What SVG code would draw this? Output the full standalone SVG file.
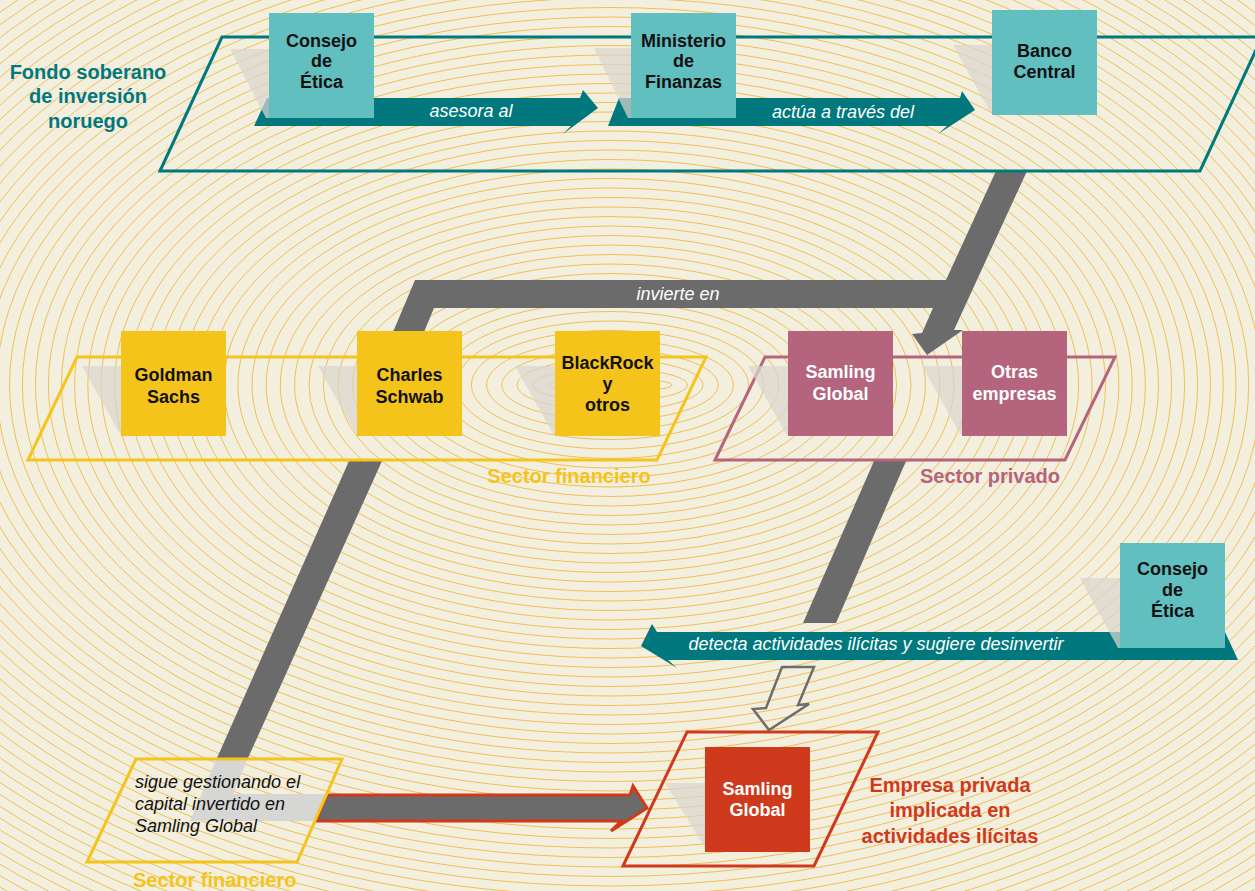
<svg xmlns="http://www.w3.org/2000/svg" width="1255" height="891" viewBox="0 0 1255 891">
<defs>
<style>
.rings ellipse{fill:none;stroke:#f0b53a;stroke-width:0.85}
.frame{fill:none;stroke-width:3;stroke-linejoin:miter}
.shadow{fill:#d9d6ce;opacity:.72}
.lbl{font-family:"Liberation Sans",Arial,sans-serif;font-weight:bold;text-anchor:middle}
.bx{font-size:18px;fill:#111}
.wh{fill:#fff}
.it{font-family:"Liberation Sans",Arial,sans-serif;font-style:italic;font-size:18px}
.teal{fill:#00787e}
.gray{fill:#6b6b6b}
.tbox{fill:#62bfbf}
.ybox{fill:#f5c41b}
.pbox{fill:#b4647c}
</style>
</defs>
<rect width="1255" height="891" fill="#f3efdf"/>
<g id="background" class="rings" transform="translate(610 385)">
<ellipse rx="62" ry="7"/><ellipse rx="77.5" ry="16.5"/><ellipse rx="92.9" ry="26"/><ellipse rx="108.2" ry="35.5"/><ellipse rx="123.4" ry="45"/>
<ellipse rx="138.6" ry="54.5"/><ellipse rx="153.7" ry="64"/><ellipse rx="168.8" ry="73.5"/><ellipse rx="183.8" ry="83"/><ellipse rx="198.7" ry="92.5"/>
<ellipse rx="213.5" ry="102"/><ellipse rx="228.3" ry="111.5"/><ellipse rx="243" ry="121"/><ellipse rx="257.6" ry="130.5"/><ellipse rx="272.1" ry="140"/>
<ellipse rx="286.6" ry="149.5"/><ellipse rx="301" ry="159"/><ellipse rx="315.4" ry="168.5"/><ellipse rx="329.7" ry="178"/><ellipse rx="343.9" ry="187.5"/>
<ellipse rx="358" ry="197"/><ellipse rx="372.1" ry="206.5"/><ellipse rx="386.1" ry="216"/><ellipse rx="400" ry="225.5"/><ellipse rx="413.8" ry="235"/>
<ellipse rx="427.6" ry="244.5"/><ellipse rx="441.3" ry="254"/><ellipse rx="455" ry="263.5"/><ellipse rx="468.6" ry="273"/><ellipse rx="482.1" ry="282.5"/>
<ellipse rx="495.5" ry="292"/><ellipse rx="508.9" ry="301.5"/><ellipse rx="522.2" ry="311"/><ellipse rx="535.4" ry="320.5"/><ellipse rx="548.5" ry="330"/>
<ellipse rx="561.6" ry="339.5"/><ellipse rx="574.6" ry="349"/><ellipse rx="587.6" ry="358.5"/><ellipse rx="600.5" ry="368"/><ellipse rx="613.3" ry="377.5"/>
<ellipse rx="626" ry="387"/><ellipse rx="638.7" ry="396.5"/><ellipse rx="651.3" ry="406"/><ellipse rx="663.8" ry="415.5"/><ellipse rx="676.2" ry="425"/>
<ellipse rx="688.6" ry="434.5"/><ellipse rx="700.9" ry="444"/><ellipse rx="713.2" ry="453.5"/><ellipse rx="725.4" ry="463"/><ellipse rx="737.5" ry="472.5"/>
<ellipse rx="749.5" ry="482"/><ellipse rx="761.5" ry="491.5"/><ellipse rx="773.4" ry="501"/><ellipse rx="785.2" ry="510.5"/><ellipse rx="796.9" ry="520"/>
<ellipse rx="808.6" ry="529.5"/><ellipse rx="820.2" ry="539"/><ellipse rx="831.8" ry="548.5"/><ellipse rx="843.3" ry="558"/><ellipse rx="854.7" ry="567.5"/>
<ellipse rx="866" ry="577"/><ellipse rx="877.3" ry="586.5"/><ellipse rx="888.5" ry="596"/><ellipse rx="899.6" ry="605.5"/><ellipse rx="910.6" ry="615"/>
<ellipse rx="921.6" ry="624.5"/><ellipse rx="932.5" ry="634"/><ellipse rx="943.4" ry="643.5"/><ellipse rx="954.2" ry="653"/><ellipse rx="964.9" ry="662.5"/>
<ellipse rx="975.5" ry="672"/><ellipse rx="986.1" ry="681.5"/><ellipse rx="996.6" ry="691"/><ellipse rx="1007" ry="700.5"/><ellipse rx="1017.4" ry="710"/>
<ellipse rx="1027.6" ry="719.5"/>
</g>

<g id="connectors">
<polygon class="gray" points="996,171 1027,171 954,330 963,330 927,355 912,334 922,333 933,308 434,308 424,332 393,332 415,280 946,280"/>
<polygon class="gray" points="349,461 382,461 248,758 217,758"/>
<polygon fill="#d6d6d4" points="217,758 248,758 233,794 327,794 315,821 190,821"/>
<polygon fill="#6b6b6b" stroke="#d03a1c" stroke-width="3" points="327,795 630,795 633,786 647,808 611,831 621,821 316,821"/>
<polygon class="gray" points="874,461 906,461 836,623 803,623"/>
<polygon class="teal" points="254,126 267,98 580,98 583,90 598,108 563,134 571,126"/>
<polygon class="teal" points="608,126 619,98 960,98 962,91 975,110 938,134 947,126"/>
<polygon class="teal" points="1225,632 1238,660 668,660 677,668 641,646 652,624 657,632"/>
<polygon fill="none" stroke="#6d6d6d" stroke-width="2.5" points="782,667 814,667 798,705 809,704 769,730 753,709 766,708"/>
<text class="it wh" x="471" y="117" text-anchor="middle">asesora al</text>
<text class="it wh" x="843" y="118" text-anchor="middle">actúa a través del</text>
<text class="it wh" x="678" y="300" text-anchor="middle">invierte en</text>
<text class="it wh" x="876" y="650" text-anchor="middle">detecta actividades ilícitas y sugiere desinvertir</text>
</g>

<g id="fondo">
<polygon class="frame" stroke="#00787e" points="160,171 222,37 1262,37 1200,171"/>
<text class="lbl" fill="#00787e" font-size="20" x="88" y="79">Fondo soberano</text>
<text class="lbl" fill="#00787e" font-size="20" x="88" y="103">de inversión</text>
<text class="lbl" fill="#00787e" font-size="20" x="88" y="128">noruego</text>
</g>

<g id="sector-financiero">
<polygon class="frame" stroke="#f5c41b" points="28,460 77,357 706,357 657,460"/>
<text class="lbl" fill="#f5c41b" font-size="20" x="569" y="483">Sector financiero</text>
</g>

<g id="sector-privado">
<polygon class="frame" stroke="#b4647c" points="715,460 765,357 1115,357 1065,460"/>
<text class="lbl" fill="#b4647c" font-size="20" x="990" y="483">Sector privado</text>
</g>

<g id="sector-financiero-2">
<polygon class="frame" stroke="#f5c41b" points="87,862 136,759 342,759 297,862"/>
<text class="it" fill="#111" x="135" y="788">sigue gestionando el</text>
<text class="it" fill="#111" x="135" y="810">capital invertido en</text>
<text class="it" fill="#111" x="135" y="832">Samling Global</text>
<text class="lbl" fill="#f5c41b" font-size="20" x="133" y="887" style="text-anchor:start">Sector financiero</text>
</g>

<g id="empresa-implicada">
<polygon class="frame" stroke="#d03a1c" points="623,866 687,732 878,732 814,866"/>
<text class="lbl" fill="#d03a1c" font-size="20" x="950" y="792">Empresa privada</text>
<text class="lbl" fill="#d03a1c" font-size="20" x="950" y="817">implicada en</text>
<text class="lbl" fill="#d03a1c" font-size="20" x="950" y="843">actividades ilícitas</text>
</g>

<g id="shadows">
<polygon class="shadow" points="230,49 270,49 270,118 266,118"/>
<polygon class="shadow" points="594,48 632,48 632,118 628,118"/>
<polygon class="shadow" points="953,45 993,45 993,112 990,112"/>
<polygon class="shadow" points="82,366 122,366 122,434 120,434"/>
<polygon class="shadow" points="318,366 358,366 358,434 356,434"/>
<polygon class="shadow" points="515,366 556,366 556,434 553,434"/>
<polygon class="shadow" points="748,366 789,366 789,434 786,434"/>
<polygon class="shadow" points="922,366 963,366 963,434 960,434"/>
<polygon class="shadow" points="1080,578 1121,578 1121,648 1118,648"/>
<polygon class="shadow" points="665,783 706,783 706,849"/>
</g>

<g id="consejo-etica-1">
<rect class="tbox" x="269" y="13" width="105" height="105"/>
<text class="lbl bx" x="321.5" y="47">Consejo</text>
<text class="lbl bx" x="321.5" y="67">de</text>
<text class="lbl bx" x="321.5" y="88">Ética</text>
</g>
<g id="ministerio-finanzas">
<rect class="tbox" x="631" y="13" width="105" height="105"/>
<text class="lbl bx" x="683.5" y="47">Ministerio</text>
<text class="lbl bx" x="683.5" y="67">de</text>
<text class="lbl bx" x="683.5" y="88">Finanzas</text>
</g>
<g id="banco-central">
<rect class="tbox" x="992" y="10" width="105" height="105"/>
<text class="lbl bx" x="1044.5" y="57">Banco</text>
<text class="lbl bx" x="1044.5" y="78">Central</text>
</g>
<g id="goldman-sachs">
<rect class="ybox" x="121" y="331" width="105" height="105"/>
<text class="lbl bx" x="173.5" y="381">Goldman</text>
<text class="lbl bx" x="173.5" y="403">Sachs</text>
</g>
<g id="charles-schwab">
<rect class="ybox" x="357" y="331" width="105" height="105"/>
<text class="lbl bx" x="409.5" y="381">Charles</text>
<text class="lbl bx" x="409.5" y="403">Schwab</text>
</g>
<g id="blackrock">
<rect class="ybox" x="555" y="331" width="105" height="105"/>
<text class="lbl bx" x="607.5" y="369">BlackRock</text>
<text class="lbl bx" x="607.5" y="390">y</text>
<text class="lbl bx" x="607.5" y="411">otros</text>
</g>
<g id="samling-global-1">
<rect class="pbox" x="788" y="331" width="105" height="105"/>
<text class="lbl bx wh" x="840.5" y="378">Samling</text>
<text class="lbl bx wh" x="840.5" y="400">Global</text>
</g>
<g id="otras-empresas">
<rect class="pbox" x="962" y="331" width="105" height="105"/>
<text class="lbl bx wh" x="1014.5" y="378">Otras</text>
<text class="lbl bx wh" x="1014.5" y="400">empresas</text>
</g>
<g id="consejo-etica-2">
<rect class="tbox" x="1120" y="543" width="105" height="105"/>
<text class="lbl bx" x="1172.5" y="575">Consejo</text>
<text class="lbl bx" x="1172.5" y="596">de</text>
<text class="lbl bx" x="1172.5" y="617">Ética</text>
</g>
<g id="samling-global-2">
<rect fill="#d03a1c" x="705" y="747" width="105" height="105"/>
<text class="lbl bx wh" x="757.5" y="795">Samling</text>
<text class="lbl bx wh" x="757.5" y="816">Global</text>
</g>
</svg>
